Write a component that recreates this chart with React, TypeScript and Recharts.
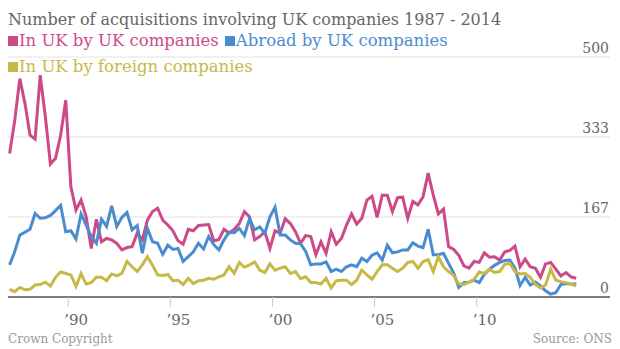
import { CartesianGrid, Line, LineChart, XAxis, YAxis } from 'recharts'

// quarterly, 1987 Q1 .. 2014 Q4
const ukByUk = [
  299, 367, 455, 404, 337, 329, 462, 376, 277, 289, 337, 410, 230, 181, 202, 167, 101, 162, 115, 122,
  119, 112, 98, 103, 105, 133, 119, 160, 178, 185, 160, 150, 138, 117, 110, 141, 138, 149, 150, 151,
  117, 120, 141, 133, 141, 153, 178, 167, 119, 126, 136, 101, 138, 133, 163, 153, 136, 112, 128, 126,
  88, 115, 91, 136, 110, 122, 150, 173, 152, 164, 202, 210, 166, 212, 212, 178, 207, 208, 164, 199,
  192, 209, 258, 212, 173, 183, 105, 99, 87, 65, 60, 74, 72, 92, 83, 84, 77, 94, 97, 106,
  63, 79, 63, 60, 41, 69, 72, 58, 44, 51, 42, 39,
]
const abroadByUk = [
  67, 94, 129, 135, 141, 174, 164, 165, 170, 180, 191, 136, 138, 121, 173, 150, 126, 112, 162, 147,
  190, 147, 166, 176, 140, 149, 91, 143, 115, 112, 89, 108, 99, 101, 74, 84, 94, 112, 100, 126,
  109, 98, 119, 135, 134, 143, 128, 163, 140, 146, 133, 167, 187, 129, 129, 119, 112, 111, 95, 67,
  69, 69, 73, 53, 58, 53, 63, 67, 63, 81, 74, 87, 92, 77, 108, 92, 94, 98, 98, 113,
  106, 103, 141, 88, 88, 91, 70, 50, 20, 30, 31, 35, 30, 47, 58, 66, 72, 76, 77, 60,
  24, 41, 25, 31, 23, 13, 6, 9, 26, 28, 27, 27,
]
const ukByForeign = [
  16, 11, 20, 15, 16, 25, 26, 31, 23, 41, 52, 49, 46, 22, 49, 27, 30, 41, 41, 34,
  48, 44, 49, 74, 63, 53, 67, 84, 66, 46, 45, 47, 34, 35, 26, 39, 28, 34, 35, 39,
  37, 42, 46, 63, 49, 72, 62, 67, 73, 56, 51, 69, 56, 60, 63, 49, 53, 38, 42, 30,
  30, 27, 39, 19, 34, 35, 35, 26, 35, 56, 46, 37, 53, 67, 67, 60, 53, 60, 72, 74,
  60, 74, 78, 53, 84, 63, 53, 45, 27, 26, 31, 37, 52, 49, 58, 51, 53, 68, 70, 53,
  48, 49, 41, 26, 19, 25, 58, 35, 32, 30, 27, 23,
]
const yearTicks = [1990, 1995, 2000, 2005, 2010]
const valueTicks = [0, 500 / 3, 1000 / 3, 500]

const PINK = '#cc4a87'
const BLUE = '#4a8cd0'
const OLIVE = '#c6b948'
const FONT = '"DejaVu Serif", serif'

const data = ukByUk.map((v, i) => ({
  t: 1987 + (i + 0.5) / 4,
  ukByUk: v,
  abroadByUk: abroadByUk[i],
  ukByForeign: ukByForeign[i],
}))

function YearTick({ x, y, payload }: any) {
  return (
    <text x={x - 4} y={y + 16} fill="#666" fontSize={15} fontFamily={FONT}>
      {'\u2019' + String(payload.value).slice(2)}
    </text>
  )
}

function ValueTick({ y, payload }: any) {
  return (
    <text x={601} y={y - 4} textAnchor="end" fill="#666" fontSize={14} fontFamily={FONT}>
      {Math.round(payload.value)}
    </text>
  )
}

function Key({ color, label }: { color: string; label: string }) {
  return (
    <span style={{ color, marginRight: 6 }}>
      <span
        style={{
          display: 'inline-block',
          width: 10,
          height: 10,
          background: color,
          marginRight: 1,
        }}
      />
      {label}
    </span>
  )
}

export default function App() {
  return (
    <div style={{ position: 'relative', width: 604, height: 341, fontFamily: FONT }}>
      <div style={{ position: 'absolute', left: 0, top: 2, fontSize: 16, color: '#666', whiteSpace: 'nowrap' }}>
        Number of acquisitions involving UK companies 1987 - 2014
      </div>
      <div style={{ position: 'absolute', left: 0, top: 23, fontSize: 16.5, whiteSpace: 'nowrap' }}>
        <Key color={PINK} label="In UK by UK companies" />
        <Key color={BLUE} label="Abroad by UK companies" />
      </div>
      <div style={{ position: 'absolute', left: 0, top: 49, fontSize: 16.5, whiteSpace: 'nowrap' }}>
        <Key color={OLIVE} label="In UK by foreign companies" />
      </div>
      <LineChart width={604} height={341} data={data} margin={{ top: 49, right: 1, left: 0, bottom: 22 }}>
        <CartesianGrid vertical={false} stroke="#e2e2e2" />
        <XAxis
          dataKey="t"
          type="number"
          domain={[1987.047, 2016.53]}
          ticks={yearTicks}
          tick={<YearTick />}
          tickSize={10}
          tickLine={{ stroke: '#ccc' }}
          axisLine={{ stroke: '#555', strokeWidth: 1.5 }}
          height={30}
          allowDataOverflow
        />
        <YAxis
          orientation="right"
          domain={[0, 500]}
          ticks={valueTicks}
          tick={<ValueTick />}
          axisLine={false}
          tickLine={false}
          width={1}
          interval={0}
        />
        <Line dataKey="ukByUk" stroke={PINK} strokeWidth={3} dot={false} isAnimationActive={false} />
        <Line dataKey="abroadByUk" stroke={BLUE} strokeWidth={3} dot={false} isAnimationActive={false} />
        <Line dataKey="ukByForeign" stroke={OLIVE} strokeWidth={3} dot={false} isAnimationActive={false} />
      </LineChart>
      <div style={{ position: 'absolute', left: 0, top: 324, fontSize: 12, color: '#999' }}>Crown Copyright</div>
      <div style={{ position: 'absolute', right: 0, top: 324, fontSize: 12, color: '#999' }}>Source: ONS</div>
    </div>
  )
}
